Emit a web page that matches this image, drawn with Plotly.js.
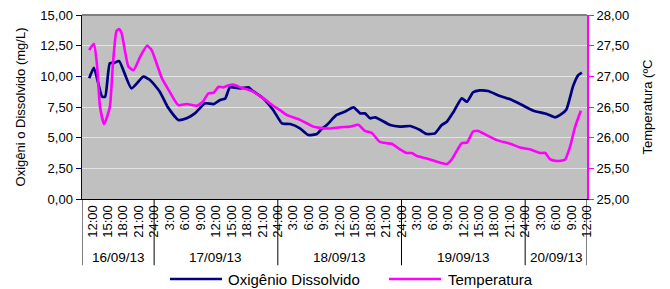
<!DOCTYPE html>
<html>
<head>
<meta charset="utf-8">
<script src="https://cdn.plot.ly/plotly-3.0.1.min.js"></script>
<style>html,body{margin:0;padding:0;background:#fff;}#chart{width:670px;height:289px;}</style>
</head>
<body>
<div id="chart"></div>
<script>
// Hours relative to 16/09/13 12:00
const hoursO = [-0.6,0.3,1.9,2.5,3.4,4.3,5.2,7.6,9.9,11.2,13.1,14.7,16.7,18.3,19.9,21.9,23.5,24.8,25.8,26.7,28.7,30.3,30.9,33.2,35.1,36.8,38.4,40.3,41.9,43.6,44.5,45.5,47.4,49.0,50.7,52.0,52.9,53.9,54.9,57.8,59.7,61.7,63.6,64.9,66.5,67.8,68.8,70.1,71.7,72.7,73.9,75.2,76.8,79.1,81.1,83.0,85.6,88.2,89.8,90.8,92.0,93.3,94.3,95.0];
const oxygen = [9.84,10.7,8.34,8.34,11.06,11.1,11.25,9.02,9.97,9.7,8.75,7.45,6.44,6.58,6.98,7.8,7.74,8.07,8.2,9.1,9.02,9.1,8.89,8.2,7.26,6.17,6.11,5.76,5.22,5.3,5.7,6.03,6.85,7.12,7.47,6.98,6.98,6.58,6.66,6.03,5.9,5.95,5.62,5.3,5.35,6.03,6.3,7.1,8.2,7.93,8.7,8.85,8.8,8.4,8.13,7.75,7.2,6.93,6.66,6.85,7.3,9.2,10.1,10.3];
const hoursT = [-0.6,0.3,0.9,1.5,2.3,3.4,4.0,4.7,5.2,5.7,7.0,8.0,9.3,10.6,11.5,13.5,14.8,16.7,18.3,20.3,21.5,22.5,23.5,24.5,25.4,26.7,27.7,28.7,30.0,31.2,33.2,35.1,36.4,37.7,40.3,42.9,44.2,46.1,48.1,50.0,51.6,52.9,54.2,55.8,57.1,58.1,59.7,61.0,62.0,63.0,64.9,66.8,68.8,69.7,71.7,72.7,73.9,74.9,76.5,78.5,81.1,83.0,84.9,86.9,87.9,88.8,90.1,91.7,92.7,93.7,94.8];
const temperature = [27.43,27.53,27.2,26.5,26.22,26.5,27.2,27.74,27.77,27.7,27.16,27.1,27.32,27.5,27.43,26.97,26.78,26.53,26.55,26.52,26.59,26.72,26.73,26.83,26.82,26.86,26.86,26.82,26.79,26.75,26.64,26.52,26.45,26.37,26.29,26.18,26.16,26.15,26.17,26.18,26.21,26.11,26.08,25.93,25.91,25.9,25.81,25.75,25.75,25.7,25.66,25.61,25.57,25.64,25.91,25.92,26.1,26.11,26.04,25.96,25.9,25.84,25.81,25.75,25.75,25.65,25.62,25.64,25.85,26.18,26.44];
const timeLabels = ['12:00','15:00','18:00','21:00','24:00','3:00','6:00','9:00','12:00','15:00','18:00','21:00','24:00','3:00','6:00','9:00','12:00','15:00','18:00','21:00','24:00','3:00','6:00','9:00','12:00','15:00','18:00','21:00','24:00','3:00','6:00','9:00','12:00'];
const dayLabels = ['16/09/13','17/09/13','18/09/13','19/09/13','20/09/13'];
const dayBounds = [-2, 12, 36, 60, 84, 96];
const seriesNames = ['Oxigênio Dissolvido','Temperatura'];
const colors = ['#000080','#FF00FF'];

const tickvals = timeLabels.map((_, i) => i * 3);
const FONT = 'Liberation Sans, Arial, sans-serif';

const traces = [
  {x: hoursO, y: oxygen, name: seriesNames[0], type: 'scatter', mode: 'lines',
   line: {color: colors[0], width: 2.7, shape: 'spline', smoothing: 0.5}, yaxis: 'y'},
  {x: hoursT, y: temperature, name: seriesNames[1], type: 'scatter', mode: 'lines',
   line: {color: colors[1], width: 2.6, shape: 'spline', smoothing: 0.5}, yaxis: 'y2'}
];

const shapes = [];
const annotations = [];
dayBounds.forEach(b => {
  shapes.push({type: 'line', xref: 'x', yref: 'paper', x0: b, x1: b, y0: 0, y1: -0.36,
               line: {color: '#000000', width: 1}});
});
dayLabels.forEach((d, i) => {
  annotations.push({xref: 'x', yref: 'paper', x: (dayBounds[i] + dayBounds[i+1]) / 2, y: -0.32,
    text: d, showarrow: false, xanchor: 'center', yanchor: 'middle',
    font: {family: FONT, size: 13.5, color: '#000'}});
});
// top border of plot area
shapes.push({type: 'line', xref: 'paper', yref: 'paper', x0: 0, x1: 1, y0: 1, y1: 1,
             line: {color: '#808080', width: 2}});
// manual legend
const legY = (199 - 279) / 184;
const legItems = [[170, 222, 226], [389, 441, 446]];
legItems.forEach((it, i) => {
  shapes.push({type: 'line', xref: 'paper', yref: 'paper', x0: (it[0]-82)/505, x1: (it[1]-82)/505,
               y0: legY, y1: legY, line: {color: colors[i], width: 2.6}});
  annotations.push({xref: 'paper', yref: 'paper', x: (it[2]-82)/505, y: (199-279)/184,
    text: seriesNames[i], showarrow: false, xanchor: 'left', yanchor: 'middle',
    font: {family: FONT, size: 15, color: '#000'}});
});

const layout = {
  width: 670, height: 289,
  margin: {l: 82, r: 83, t: 15, b: 90, pad: 0},
  paper_bgcolor: '#ffffff',
  plot_bgcolor: '#C0C0C0',
  separators: ',.',
  showlegend: false,
  font: {family: FONT, size: 13, color: '#000'},
  xaxis: {
    range: [-2, 96], tickvals: tickvals, ticktext: timeLabels, tickangle: -90,
    showgrid: false, zeroline: false, showline: true, linecolor: '#000', linewidth: 1,
    ticks: '', tickfont: {family: FONT, size: 13, color: '#000'}
  },
  yaxis: {
    range: [0, 15], dtick: 2.5, tickformat: '.2f', showgrid: true, gridcolor: '#E4E4E4', gridwidth: 1,
    zeroline: false, showline: true, linecolor: '#000080', linewidth: 1.5,
    ticks: 'outside', ticklen: 5, tickcolor: '#000080',
    tickfont: {family: FONT, size: 13, color: '#000'},
    title: {text: 'Oxigêni o Dissolvido (mg/L)', font: {family: FONT, size: 13, color: '#000'}, standoff: 12}
  },
  yaxis2: {
    range: [25, 28], dtick: 0.5, tickformat: '.2f', overlaying: 'y', side: 'right',
    showgrid: false, zeroline: false, showline: true, linecolor: '#FF00FF', linewidth: 2,
    ticks: 'outside', ticklen: 5, tickcolor: '#FF00FF',
    tickfont: {family: FONT, size: 13, color: '#000'},
    title: {text: 'Temperatura (ºC', font: {family: FONT, size: 13, color: '#000'}, standoff: 15}
  },
  shapes: shapes,
  annotations: annotations
};

Plotly.newPlot('chart', traces, layout, {displayModeBar: false, staticPlot: true});
</script>
</body>
</html>
